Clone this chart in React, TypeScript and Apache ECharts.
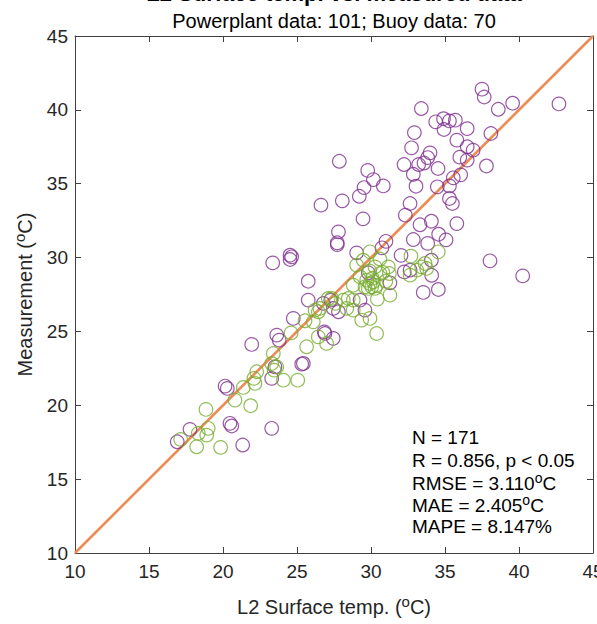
import React, { useEffect, useRef } from "react";
import * as echarts from "echarts";

// Powerplant data (purple): L2 surface temp (x) vs measurement (y)
const powerplantL2 = [
  37.5, 37.65, 38.6, 39.57, 42.7, 34.9, 35.3, 35.7, 34.93, 36.5,
  38.1, 35.8, 36.5, 36.9, 36.0, 36.5, 37.8, 35.56, 36.06, 35.3,
  35.3, 35.5, 35.8, 35.07, 38.04, 40.25, 33.4, 34.37, 32.93, 32.74,
  33.99, 33.83, 33.58, 33.22, 32.23, 34.53, 27.86, 32.86, 33.04, 34.48,
  29.78, 30.16, 30.83, 29.53, 29.21, 28.06, 26.62, 32.64, 29.46, 27.8,
  27.72, 27.72, 29.03, 31.01, 30.74, 32.32, 33.31, 34.08, 32.86, 33.83,
  34.57, 32.03, 34.08, 34.1, 32.25, 32.64, 33.53, 34.55, 25.76, 25.76,
  31.28, 29.82, 27.8, 29.26, 29.59, 26.89, 27.45, 25.43, 23.36, 24.53,
  24.64, 24.53, 24.75, 23.63, 23.8, 21.94, 25.32, 23.51, 23.29, 20.14,
  20.29, 20.47, 20.59, 23.29, 17.77, 16.91, 21.33, 26.84, 27.28, 26.78,
  27.45,
];
const powerplantMeas = [
  41.4, 40.87, 40.04, 40.45, 40.4, 39.4, 39.25, 39.3, 38.67, 38.73,
  38.4, 37.95, 37.5, 37.27, 36.8, 36.6, 36.2, 35.4, 35.6, 34.85,
  34.0, 33.66, 32.3, 31.2, 29.78, 28.76, 40.09, 39.19, 38.46, 37.43,
  37.09, 36.77, 36.4, 36.3, 36.3, 36.03, 36.52, 35.64, 34.83, 34.79,
  35.9, 35.28, 34.85, 34.74, 34.15, 33.84, 33.55, 33.66, 32.62, 31.74,
  31.0, 30.88, 30.32, 31.1, 30.66, 32.87, 32.22, 32.46, 31.22, 30.96,
  31.58, 30.15, 29.82, 28.8, 29.03, 29.15, 27.64, 27.84, 28.4, 27.12,
  28.29, 28.97, 26.33, 27.12, 26.44, 24.86, 24.53, 22.83, 29.64, 30.16,
  30.05, 29.87, 25.88, 24.75, 24.41, 24.12, 22.79, 22.6, 21.82, 21.3,
  21.14, 18.78, 18.6, 18.44, 18.37, 17.53, 17.31, 24.97, 27.12, 26.9,
  26.56,
];

// Buoy data (green)
const buoyL2 = [
  25.54, 25.65, 23.4, 23.29, 23.63, 23.45, 22.28, 22.09, 22.16, 24.08,
  25.05, 21.37, 20.81, 21.87, 18.85, 19.0, 18.9, 18.33, 17.14, 18.22,
  19.84, 26.1, 26.44, 27.11, 26.44, 27.0, 29.93, 34.55, 32.7, 33.65,
  33.76, 33.42, 32.64, 33.09, 29.48, 29.03, 30.27, 31.17, 30.61, 31.24,
  29.26, 29.71, 29.93, 30.16, 30.05, 29.82, 30.27, 29.59, 30.38, 28.8,
  31.28, 30.43, 28.47, 28.8, 28.36, 28.8, 29.37, 29.93, 27.34, 28.13,
  26.55, 26.22, 30.38, 30.1, 29.9, 30.8, 31.0, 30.6, 27.6, 24.6,
];
const buoyMeas = [
  25.72, 23.96, 23.51, 22.83, 22.6, 22.38, 22.27, 21.82, 21.48, 21.7,
  21.7, 21.21, 20.35, 19.97, 19.72, 18.44, 17.98, 18.1, 17.69, 17.19,
  17.15, 25.65, 26.33, 27.23, 24.63, 24.19, 30.39, 30.39, 30.1, 29.6,
  29.26, 29.37, 28.81, 29.15, 29.82, 29.49, 29.37, 29.37, 28.92, 28.92,
  28.7, 28.47, 28.25, 28.36, 28.02, 27.91, 27.91, 28.02, 28.13, 28.13,
  27.46, 27.19, 27.23, 27.12, 26.56, 26.44, 25.77, 25.88, 27.23, 27.12,
  26.56, 26.44, 24.86, 28.6, 29.1, 29.0, 28.4, 29.9, 26.9, 24.9,
];

const identityLine = [10, 45];

const xTicks = { min: 10, max: 45, interval: 5 };
const yTicks = { min: 10, max: 45, interval: 5 };

const statsLines = [
  "{a|N = 171}",
  "{a|R = 0.856, p < 0.05}",
  "{a|RMSE = 3.110}{s|o}{a|C}",
  "{a|MAE = 2.405}{s|o}{a|C}",
  "{a|MAPE = 8.147%}",
];
const statsY = [437, 460, 483, 505, 526];

const FONT = "'Liberation Sans', Arial, Helvetica, sans-serif";
const AX = "#404040";
const TXT = "#262626";

export default function App() {
  const ref = useRef<HTMLDivElement>(null);
  useEffect(() => {
    if (!ref.current) return;
    const chart = echarts.init(ref.current, null, { renderer: "svg" });
    const pp = powerplantL2.map((x, i) => [x, powerplantMeas[i]]);
    const bu = buoyL2.map((x, i) => [x, buoyMeas[i]]);
    const axisCommon = {
      type: "value" as const,
      splitLine: { show: false },
      axisLine: { show: true, onZero: false, lineStyle: { color: AX, width: 1 } },
      axisTick: { show: true, inside: true, length: 6, lineStyle: { color: AX } },
    };
    const richName = {
      a: { fontSize: 20, fontFamily: FONT, color: TXT },
      s: { fontSize: 15, fontFamily: FONT, color: TXT, verticalAlign: "top" as const, padding: [0, 0, 10, 0] },
    };
    const option = {
      animation: false,
      backgroundColor: "#ffffff",
      grid: { left: 75, right: 4, top: 36, bottom: 71, containLabel: false, outerBoundsMode: "none" },
      xAxis: [
        {
          ...axisCommon,
          ...xTicks,
          position: "bottom",
          axisLabel: { fontSize: 19, color: TXT, fontFamily: FONT, margin: 9, hideOverlap: false },
          name: "{a|L2 Surface temp. (}{s|o}{a|C)}",
          nameLocation: "middle",
          nameGap: 41,
          nameTextStyle: { rich: richName },
        },
        {
          ...axisCommon,
          ...xTicks,
          position: "top",
          axisLabel: { show: false },
        },
      ],
      yAxis: [
        {
          ...axisCommon,
          ...yTicks,
          position: "left",
          axisLabel: { fontSize: 19, color: TXT, fontFamily: FONT, margin: 7 },
          name: "{a|Measurement (}{s|o}{a|C)}",
          nameLocation: "middle",
          nameGap: 38,
          nameRotate: 90,
          nameTextStyle: { rich: richName },
        },
        {
          ...axisCommon,
          ...yTicks,
          position: "right",
          axisLabel: { show: false },
        },
      ],
      series: [
        {
          type: "line",
          data: identityLine.map((v) => [v, v]),
          symbol: "none",
          lineStyle: { color: "#EE8B55", width: 2.6 },
          z: 1,
        },
        {
          type: "scatter",
          name: "Powerplant",
          data: pp,
          symbol: "circle",
          symbolSize: 13.5,
          itemStyle: { color: "rgba(0,0,0,0)", borderColor: "#7E2F8E", borderWidth: 1.2 },
          z: 2,
        },
        {
          type: "scatter",
          name: "Buoy",
          data: bu,
          symbol: "circle",
          symbolSize: 13.5,
          itemStyle: { color: "rgba(0,0,0,0)", borderColor: "#77AC30", borderWidth: 1.2 },
          z: 3,
        },
      ],
      graphic: [
        {
          type: "text",
          x: 334,
          y: -7,
          style: {
            text: "L2 Surface temp. vs. measured data",
            fontSize: 22,
            fontWeight: "bold",
            fontFamily: FONT,
            fill: "#000",
            align: "center",
            verticalAlign: "middle",
          },
        },
        {
          type: "text",
          x: 334,
          y: 21,
          style: {
            text: "Powerplant data: 101; Buoy data: 70",
            fontSize: 20,
            fontFamily: FONT,
            fill: "#000",
            align: "center",
            verticalAlign: "middle",
          },
        },
        ...statsLines.map((t, i) => ({
          type: "text",
          x: 412,
          y: statsY[i],
          style: {
            text: t,
            align: "left",
            verticalAlign: "middle",
            rich: {
              a: { fontSize: 19, fontFamily: FONT, fill: "#000", color: "#000" },
              s: { fontSize: 14, fontFamily: FONT, fill: "#000", color: "#000", verticalAlign: "top", padding: [0, 0, 10, 0] },
            },
          },
        })),
      ],
    };
    chart.setOption(option as any);
    return () => chart.dispose();
  }, []);
  return (
    <div
      ref={ref}
      style={{ position: "absolute", left: 0, top: 0, width: 597, height: 624, background: "#fff" }}
    />
  );
}
